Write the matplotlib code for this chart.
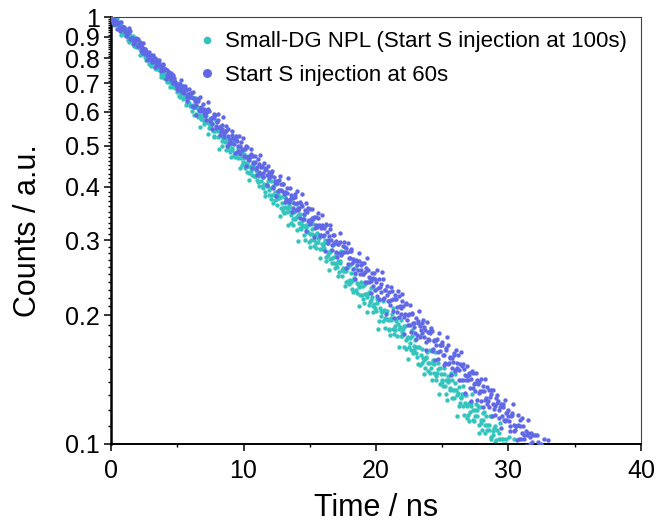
import numpy as np
import matplotlib
matplotlib.use("Agg")
import matplotlib.pyplot as plt
from matplotlib.ticker import FixedLocator, NullFormatter, FuncFormatter
from matplotlib.lines import Line2D

plt.rcParams['font.family'] = ['Liberation Sans', 'DejaVu Sans']

# normalised decay counts; channels are 0.1 ns apart,
# the "_odd" lists are the channels in between (offset by 0.05 ns)
channel_ns = 0.1

counts_100s = [
    1.000, 0.978, 0.994, 0.995, 0.964, 0.952, 0.955, 0.970, 0.921, 0.939,
    0.923, 0.930, 0.903, 0.883, 0.901, 0.900, 0.878, 0.890, 0.869, 0.851,
    0.872, 0.845, 0.847, 0.821, 0.831, 0.832, 0.808, 0.809, 0.816, 0.777,
    0.798, 0.779, 0.790, 0.776, 0.755, 0.769, 0.751, 0.765, 0.734, 0.738,
    0.719, 0.731, 0.720, 0.729, 0.703, 0.702, 0.716, 0.684, 0.691, 0.689,
    0.668, 0.686, 0.650, 0.663, 0.661, 0.648, 0.656, 0.629, 0.643, 0.630,
    0.651, 0.601, 0.623, 0.616, 0.592, 0.612, 0.616, 0.588, 0.577, 0.585,
    0.589, 0.569, 0.585, 0.566, 0.549, 0.555, 0.565, 0.540, 0.523, 0.544,
    0.547, 0.523, 0.527, 0.539, 0.498, 0.534, 0.509, 0.513, 0.490, 0.502,
    0.504, 0.487, 0.506, 0.474, 0.481, 0.483, 0.467, 0.480, 0.468, 0.450,
    0.478, 0.444, 0.455, 0.454, 0.431, 0.445, 0.437, 0.448, 0.424, 0.425,
    0.433, 0.410, 0.424, 0.413, 0.403, 0.421, 0.390, 0.404, 0.403, 0.393,
    0.397, 0.375, 0.403, 0.384, 0.372, 0.374, 0.386, 0.378, 0.358, 0.367,
    0.352, 0.359, 0.369, 0.349, 0.359, 0.352, 0.329, 0.337, 0.350, 0.336,
    0.317, 0.344, 0.329, 0.320, 0.333, 0.324, 0.308, 0.321, 0.313, 0.326,
    0.311, 0.300, 0.319, 0.300, 0.308, 0.288, 0.298, 0.303, 0.286, 0.294,
    0.293, 0.288, 0.274, 0.296, 0.277, 0.271, 0.285, 0.272, 0.274, 0.258,
    0.264, 0.268, 0.253, 0.266, 0.255, 0.258, 0.254, 0.240, 0.258, 0.241,
    0.242, 0.252, 0.231, 0.242, 0.250, 0.230, 0.238, 0.233, 0.223, 0.234,
    0.235, 0.214, 0.225, 0.221, 0.225, 0.212, 0.217, 0.221, 0.210, 0.208,
    0.205, 0.219, 0.194, 0.208, 0.205, 0.194, 0.206, 0.197, 0.205, 0.195,
    0.186, 0.197, 0.202, 0.186, 0.189, 0.194, 0.179, 0.186, 0.188, 0.179,
    0.183, 0.169, 0.189, 0.175, 0.178, 0.169, 0.172, 0.179, 0.163, 0.170,
    0.169, 0.160, 0.169, 0.153, 0.162, 0.167, 0.157, 0.151, 0.159, 0.155,
    0.155, 0.147, 0.155, 0.157, 0.147, 0.144, 0.147, 0.155, 0.138, 0.146,
    0.141, 0.146, 0.137, 0.131, 0.140, 0.141, 0.134, 0.141, 0.134, 0.128,
    0.139, 0.130, 0.132, 0.123, 0.129, 0.131, 0.123, 0.125, 0.130, 0.115,
    0.125, 0.119, 0.125, 0.120, 0.113, 0.120, 0.116, 0.123, 0.111, 0.114,
    0.108, 0.114, 0.111, 0.116, 0.108, 0.108, 0.116, 0.103, 0.107, 0.109,
    0.101, 0.108, 0.097, 0.103, 0.103, 0.099, 0.103, 0.095, 0.100, 0.097,
    0.099, 0.093, 0.097, 0.090, 0.095,
]

counts_100s_odd = [
    0.966, 0.985, 0.959, 0.982, 0.993, 0.943, 0.956, 0.910, 0.951, 0.921,
    0.909, 0.936, 0.910, 0.873, 0.906, 0.882, 0.904, 0.855, 0.865, 0.888,
    0.859, 0.813, 0.855, 0.824, 0.827, 0.841, 0.793, 0.817, 0.799, 0.780,
    0.768, 0.786, 0.801, 0.759, 0.759, 0.774, 0.760, 0.725, 0.759, 0.733,
    0.740, 0.739, 0.705, 0.714, 0.684, 0.708, 0.688, 0.712, 0.682, 0.691,
    0.670, 0.653, 0.675, 0.691, 0.644, 0.649, 0.622, 0.644, 0.649, 0.618,
    0.660, 0.615, 0.588, 0.621, 0.647, 0.582, 0.603, 0.552, 0.605, 0.573,
    0.563, 0.598, 0.571, 0.531, 0.574, 0.550, 0.580, 0.526, 0.542, 0.572,
    0.542, 0.492, 0.545, 0.513, 0.520, 0.540, 0.487, 0.518, 0.500, 0.482,
    0.469, 0.494, 0.515, 0.469, 0.472, 0.494, 0.481, 0.442, 0.486, 0.457,
    0.468, 0.472, 0.434, 0.449, 0.415, 0.447, 0.426, 0.457, 0.425, 0.438,
    0.416, 0.401, 0.427, 0.445, 0.398, 0.406, 0.380, 0.405, 0.413, 0.382,
    0.414, 0.384, 0.366, 0.389, 0.407, 0.363, 0.377, 0.342, 0.379, 0.357,
    0.348, 0.379, 0.358, 0.325, 0.363, 0.343, 0.369, 0.326, 0.339, 0.364,
    0.341, 0.299, 0.345, 0.318, 0.325, 0.343, 0.300, 0.326, 0.313, 0.297,
    0.289, 0.311, 0.328, 0.291, 0.295, 0.312, 0.303, 0.272, 0.309, 0.286,
    0.296, 0.300, 0.269, 0.281, 0.255, 0.282, 0.265, 0.292, 0.266, 0.278,
    0.260, 0.248, 0.268, 0.283, 0.248, 0.254, 0.235, 0.254, 0.260, 0.237,
    0.263, 0.240, 0.227, 0.245, 0.259, 0.226, 0.237, 0.211, 0.239, 0.223,
    0.219, 0.237, 0.224, 0.204, 0.227, 0.215, 0.232, 0.204, 0.213, 0.229,
    0.214, 0.186, 0.217, 0.199, 0.204, 0.216, 0.187, 0.205, 0.196, 0.185,
    0.180, 0.195, 0.208, 0.181, 0.185, 0.197, 0.191, 0.169, 0.195, 0.179,
    0.186, 0.189, 0.167, 0.177, 0.158, 0.177, 0.166, 0.185, 0.166, 0.175,
    0.163, 0.154, 0.169, 0.179, 0.155, 0.159, 0.146, 0.160, 0.164, 0.148,
    0.166, 0.151, 0.141, 0.154, 0.164, 0.141, 0.150, 0.131, 0.151, 0.140,
    0.137, 0.151, 0.141, 0.127, 0.144, 0.135, 0.147, 0.128, 0.134, 0.146,
    0.134, 0.116, 0.136, 0.125, 0.128, 0.137, 0.117, 0.130, 0.123, 0.117,
    0.113, 0.123, 0.131, 0.114, 0.116, 0.124, 0.120, 0.106, 0.122, 0.112,
    0.118, 0.119, 0.106, 0.111, 0.099, 0.111, 0.104, 0.116, 0.105, 0.110,
    0.102, 0.097, 0.106, 0.112, 0.097, 0.100, 0.091, 0.100, 0.103, 0.093,
    0.104, 0.094, 0.088, 0.097, 0.103,
]

counts_60s = [
    1.000, 0.997, 0.990, 0.964, 0.974, 0.964, 0.971, 0.928, 0.950, 0.946,
    0.944, 0.920, 0.901, 0.919, 0.926, 0.889, 0.895, 0.873, 0.879, 0.888,
    0.856, 0.864, 0.876, 0.842, 0.823, 0.841, 0.842, 0.821, 0.809, 0.813,
    0.814, 0.785, 0.796, 0.803, 0.780, 0.767, 0.780, 0.770, 0.755, 0.771,
    0.750, 0.757, 0.731, 0.730, 0.744, 0.712, 0.723, 0.730, 0.703, 0.694,
    0.680, 0.698, 0.697, 0.681, 0.688, 0.665, 0.683, 0.651, 0.662, 0.661,
    0.663, 0.618, 0.646, 0.645, 0.623, 0.637, 0.642, 0.601, 0.615, 0.607,
    0.608, 0.587, 0.595, 0.608, 0.601, 0.578, 0.562, 0.582, 0.592, 0.557,
    0.569, 0.573, 0.552, 0.540, 0.547, 0.531, 0.542, 0.556, 0.526, 0.508,
    0.510, 0.528, 0.520, 0.505, 0.526, 0.513, 0.485, 0.499, 0.509, 0.487,
    0.473, 0.490, 0.499, 0.471, 0.463, 0.470, 0.478, 0.455, 0.456, 0.472,
    0.445, 0.464, 0.434, 0.446, 0.447, 0.421, 0.439, 0.440, 0.426, 0.434,
    0.429, 0.424, 0.398, 0.423, 0.409, 0.409, 0.392, 0.415, 0.406, 0.391,
    0.406, 0.389, 0.375, 0.387, 0.373, 0.397, 0.382, 0.358, 0.366, 0.378,
    0.366, 0.354, 0.358, 0.369, 0.361, 0.336, 0.345, 0.366, 0.349, 0.333,
    0.356, 0.332, 0.338, 0.341, 0.320, 0.325, 0.339, 0.325, 0.308, 0.326,
    0.307, 0.309, 0.327, 0.314, 0.296, 0.318, 0.300, 0.293, 0.308, 0.296,
    0.299, 0.294, 0.280, 0.298, 0.280, 0.291, 0.281, 0.287, 0.282, 0.264,
    0.273, 0.283, 0.266, 0.271, 0.252, 0.270, 0.263, 0.268, 0.250, 0.262,
    0.250, 0.266, 0.253, 0.240, 0.256, 0.246, 0.241, 0.251, 0.234, 0.243,
    0.240, 0.222, 0.243, 0.233, 0.227, 0.243, 0.220, 0.229, 0.223, 0.216,
    0.227, 0.217, 0.228, 0.205, 0.218, 0.218, 0.204, 0.222, 0.210, 0.202,
    0.216, 0.198, 0.202, 0.214, 0.190, 0.202, 0.190, 0.203, 0.192, 0.188,
    0.197, 0.180, 0.194, 0.189, 0.185, 0.192, 0.178, 0.185, 0.173, 0.183,
    0.175, 0.182, 0.184, 0.167, 0.174, 0.171, 0.176, 0.158, 0.171, 0.171,
    0.171, 0.162, 0.155, 0.166, 0.171, 0.155, 0.160, 0.151, 0.156, 0.162,
    0.149, 0.155, 0.162, 0.149, 0.141, 0.152, 0.154, 0.145, 0.141, 0.144,
    0.147, 0.135, 0.142, 0.147, 0.138, 0.133, 0.141, 0.138, 0.132, 0.142,
    0.133, 0.137, 0.127, 0.128, 0.136, 0.122, 0.129, 0.134, 0.124, 0.121,
    0.117, 0.125, 0.126, 0.120, 0.124, 0.116, 0.124, 0.113, 0.118, 0.119,
    0.116, 0.110, 0.116, 0.118, 0.111, 0.108, 0.110, 0.117, 0.103, 0.110,
    0.106, 0.110, 0.103, 0.099, 0.105, 0.106, 0.100, 0.106, 0.101, 0.097,
    0.105, 0.098, 0.101, 0.094, 0.098, 0.099, 0.094, 0.095, 0.098, 0.088,
    0.095, 0.091, 0.097, 0.090, 0.093,
]

counts_60s_odd = [
    0.982, 0.967, 0.965, 0.978, 0.937, 0.970, 0.943, 0.976, 0.935, 0.949,
    0.922, 0.902, 0.927, 0.943, 0.890, 0.895, 0.865, 0.888, 0.893, 0.857,
    0.889, 0.854, 0.832, 0.852, 0.869, 0.819, 0.831, 0.792, 0.829, 0.803,
    0.793, 0.816, 0.794, 0.762, 0.791, 0.771, 0.791, 0.748, 0.758, 0.778,
    0.754, 0.714, 0.751, 0.724, 0.727, 0.741, 0.699, 0.720, 0.704, 0.688,
    0.674, 0.695, 0.713, 0.669, 0.671, 0.688, 0.675, 0.637, 0.678, 0.649,
    0.664, 0.669, 0.617, 0.637, 0.591, 0.635, 0.607, 0.650, 0.605, 0.624,
    0.595, 0.575, 0.607, 0.631, 0.571, 0.581, 0.548, 0.579, 0.588, 0.549,
    0.592, 0.553, 0.529, 0.558, 0.582, 0.524, 0.542, 0.498, 0.546, 0.517,
    0.508, 0.541, 0.517, 0.481, 0.521, 0.498, 0.526, 0.478, 0.492, 0.520,
    0.492, 0.447, 0.495, 0.466, 0.473, 0.492, 0.444, 0.472, 0.457, 0.440,
    0.427, 0.452, 0.474, 0.429, 0.432, 0.454, 0.442, 0.404, 0.448, 0.420,
    0.432, 0.436, 0.399, 0.414, 0.381, 0.413, 0.393, 0.424, 0.393, 0.407,
    0.385, 0.368, 0.397, 0.419, 0.368, 0.377, 0.349, 0.377, 0.386, 0.353,
    0.392, 0.358, 0.338, 0.365, 0.385, 0.337, 0.354, 0.316, 0.358, 0.334,
    0.328, 0.356, 0.337, 0.306, 0.341, 0.323, 0.347, 0.307, 0.320, 0.344,
    0.321, 0.283, 0.325, 0.301, 0.307, 0.325, 0.284, 0.309, 0.296, 0.282,
    0.274, 0.294, 0.312, 0.277, 0.280, 0.298, 0.289, 0.259, 0.295, 0.273,
    0.283, 0.286, 0.257, 0.269, 0.244, 0.269, 0.255, 0.280, 0.255, 0.266,
    0.250, 0.239, 0.258, 0.273, 0.239, 0.245, 0.226, 0.245, 0.252, 0.229,
    0.256, 0.232, 0.218, 0.237, 0.253, 0.218, 0.230, 0.202, 0.234, 0.216,
    0.212, 0.233, 0.219, 0.197, 0.223, 0.209, 0.228, 0.198, 0.208, 0.225,
    0.210, 0.181, 0.213, 0.195, 0.200, 0.212, 0.183, 0.202, 0.192, 0.182,
    0.176, 0.192, 0.205, 0.178, 0.182, 0.195, 0.188, 0.166, 0.193, 0.176,
    0.184, 0.187, 0.165, 0.175, 0.157, 0.175, 0.164, 0.182, 0.165, 0.173,
    0.162, 0.153, 0.168, 0.178, 0.154, 0.159, 0.145, 0.159, 0.163, 0.148,
    0.166, 0.151, 0.141, 0.154, 0.164, 0.141, 0.150, 0.132, 0.152, 0.141,
    0.145, 0.126, 0.148, 0.135, 0.139, 0.147, 0.127, 0.140, 0.133, 0.126,
    0.122, 0.133, 0.142, 0.124, 0.126, 0.134, 0.131, 0.116, 0.134, 0.123,
    0.128, 0.130, 0.115, 0.122, 0.109, 0.122, 0.114, 0.127, 0.114, 0.120,
    0.113, 0.107, 0.117, 0.124, 0.107, 0.110, 0.102, 0.111, 0.114, 0.103,
    0.115, 0.105, 0.098, 0.107, 0.114, 0.098, 0.104, 0.091, 0.105, 0.098,
    0.095, 0.105, 0.099, 0.089, 0.100, 0.095, 0.103, 0.089, 0.094, 0.102,
    0.094, 0.082, 0.096, 0.088, 0.090,
]

labels = ["Small-DG NPL (Start S injection at 100s)", "Start S injection at 60s"]
colors = ["#33C4BE", "#6068E6"]
y_major = [0.1, 0.2, 0.3, 0.4, 0.5, 0.6, 0.7, 0.8, 0.9, 1.0]


def channel_times(values, offset=0.0):
    return np.arange(len(values)) * channel_ns + offset


fig = plt.figure(figsize=(6.57, 5.27), dpi=100)
ax = fig.add_axes([0.169, 0.1575, 0.8066, 0.8102])

for vals, off in [(counts_100s, 0.0), (counts_100s_odd, channel_ns / 2)]:
    ax.scatter(channel_times(vals, off), vals, s=10, color=colors[0],
               linewidths=0, zorder=2)
for vals, off in [(counts_60s, 0.0), (counts_60s_odd, channel_ns / 2)]:
    ax.scatter(channel_times(vals, off), vals, s=10, color=colors[1],
               linewidths=0, zorder=3)

ax.set_yscale('log')
ax.set_xlim(0, 40)
ax.set_ylim(0.1, 1)

ax.set_xticks([0, 10, 20, 30, 40])
ax.set_xticks([5, 15, 25, 35], minor=True)
ax.yaxis.set_major_locator(FixedLocator(y_major))
ax.yaxis.set_major_formatter(FuncFormatter(lambda v, p: '%g' % v))
minor_y = [round(0.1 + 0.01 * i, 2) for i in range(91)]
minor_y = [v for v in minor_y if round(v * 10, 6) != round(v * 10)]
ax.yaxis.set_minor_locator(FixedLocator(minor_y))
ax.yaxis.set_minor_formatter(NullFormatter())

ax.tick_params(which='major', direction='out', length=5, width=1.1,
               labelsize=18, top=False, right=False)
ax.tick_params(axis='x', which='major', pad=6)
ax.tick_params(axis='y', which='major', pad=3)
ax.tick_params(which='minor', direction='out', length=2.5, width=1.0,
               top=False, right=False)

ax.spines['left'].set_linewidth(1.8)
ax.spines['bottom'].set_linewidth(1.4)
for side in ['top', 'right']:
    ax.spines[side].set_linewidth(0.8)
    ax.spines[side].set_color('#444444')

ax.set_xlabel('Time / ns', fontsize=22, labelpad=7)
ax.set_ylabel('Counts / a.u.', fontsize=22, labelpad=16)

handles = [Line2D([], [], linestyle='none', marker='o', markersize=5.5,
                  markerfacecolor=colors[0], markeredgewidth=0),
           Line2D([], [], linestyle='none', marker='o', markersize=6.5,
                  markerfacecolor=colors[1], markeredgewidth=0)]
ax.legend(handles, labels, loc='upper right', frameon=False, fontsize=16,
          handlelength=0.8, handletextpad=0.4, labelspacing=0.55,
          borderaxespad=0.3, borderpad=0.35)

fig.savefig('out.png', dpi=100)
